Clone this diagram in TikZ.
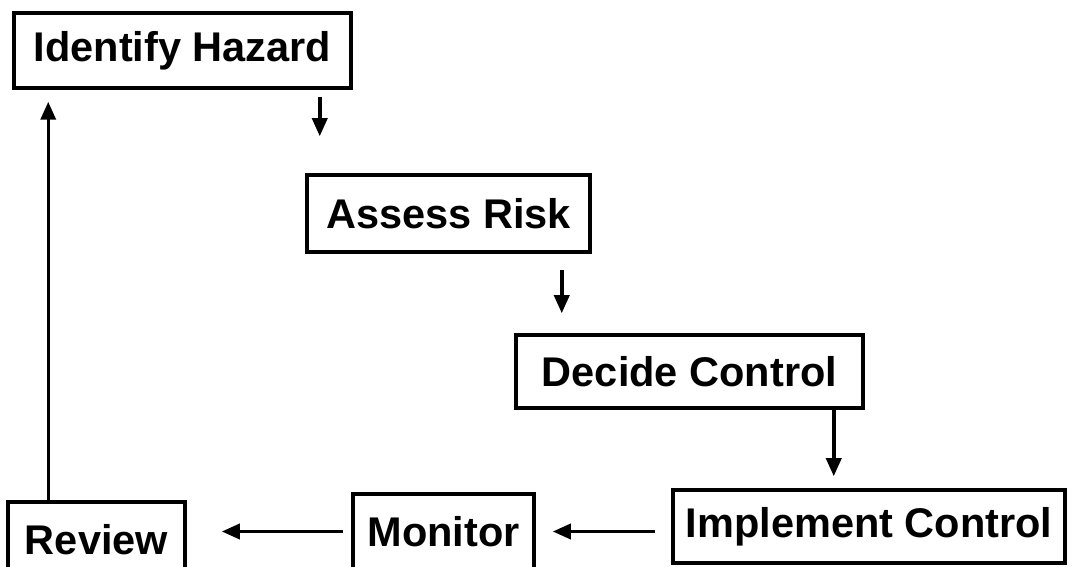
\documentclass[tikz,border=0pt]{standalone}
\usepackage{fontspec}
\setmainfont{Liberation Sans}
\usetikzlibrary{arrows.meta}

\tikzset{
  stage/.style={draw, line width=3.5pt, inner sep=0pt, minimum height=75pt,
    font=\fontsize{41.5}{48}\selectfont\bfseries},
  flow/.style={line width=3.5pt, -{Triangle[length=18pt,width=15pt]}}
}

\begin{document}
\begin{tikzpicture}[x=1pt, y=1pt]
        % Fix the page size
        \useasboundingbox (0,0) rectangle (1072,567);
        \clip (0,0) rectangle (1072,567);

        % Draw the steps of the cycle
        \node[stage, minimum width=337pt] (hazard) at (182.5,516.5) {Identify Hazard};
        \node[stage, minimum width=283pt, minimum height=77pt] (risk) at (448.5,353.5) {Assess Risk};
        \node[stage, minimum width=347pt, minimum height=73pt] (decide) at (689.5,195.5) {Decide Control};
        \node[stage, minimum width=392pt, minimum height=73pt] (implement) at (869,40.5) {Implement Control};
        \node[stage, minimum width=181pt] (monitor) at (443.5,35.5) {Monitor};
        \node[stage, minimum width=177pt] (review) at (96.5,27.5) {Review};

        % Arrows going down
        \draw[flow, shorten <=7pt, shorten >=37pt] ([xshift=-33pt]hazard.south east)
            -- ([xshift=-33pt]hazard.south east |- risk.north);
        \draw[flow, shorten <=16pt, shorten >=20pt] ([xshift=-30pt]risk.south east)
            -- ([xshift=-30pt]risk.south east |- decide.north);
        \draw[flow, shorten >=12pt] ([xshift=-31pt]decide.south east)
            -- ([xshift=-31pt]decide.south east |- implement.north);

        % Arrows going back
        \draw[flow, shorten <=16pt, shorten >=17pt] (implement.west |- monitor.east) -- (monitor.east);
        \draw[flow, shorten <=8pt, shorten >=35pt] (monitor.west) -- (monitor.west -| review.east);
        \draw[flow, shorten >=12pt] ([xshift=42pt]review.north west)
            -- ([xshift=42pt]review.north west |- hazard.south);
    \end{tikzpicture}
\end{document}
